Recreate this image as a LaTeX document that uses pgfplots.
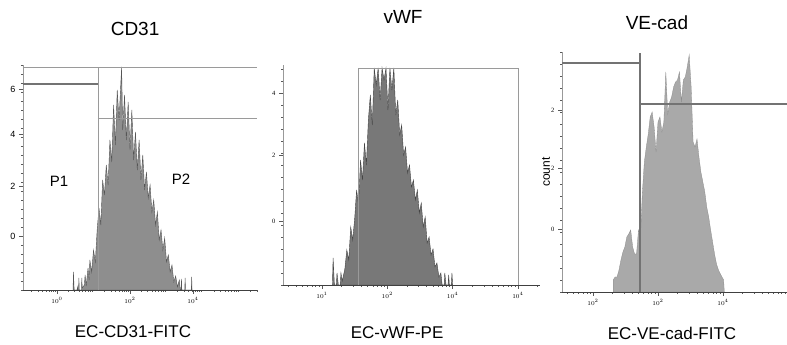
\documentclass[border=0pt]{standalone}
\usepackage{pgfplots}
\pgfplotsset{compat=1.18}
\usepackage{pgfplotstable}
\usepackage{fontspec}
\setmainfont{Liberation Sans}
\newfontfamily\serif{Liberation Serif}
\definecolor{fillA}{HTML}{8E8E8E}
\definecolor{lineA}{HTML}{555555}
\definecolor{fillB}{HTML}{787878}
\definecolor{lineB}{HTML}{444444}
\definecolor{fillC}{HTML}{A9A9A9}
\definecolor{lineC}{HTML}{8A8A8A}
\definecolor{gate}{HTML}{9A9A9A}
\definecolor{gateD}{HTML}{737373}
\newcommand\dec[1]{#1.301,#1.477,#1.602,#1.699,#1.778,#1.845,#1.903,#1.954}
\edef\minA{-0.699,-0.523,-0.398,-0.301,-0.222,-0.155,-0.097,-0.046,\dec0,\dec1,\dec2,\dec3,\dec4,\dec5}
\edef\minB{\dec0,\dec1,\dec2,\dec3,\dec4}
\pgfplotstableread{
d h
0.44 0
0.45 18
0.47 0
0.55 0
0.56 3
0.57 0
0.59 0
0.60 12
0.61 0
0.67 0
0.68 12
0.69 2
0.75 5
0.77 15
0.80 4
0.85 22
0.88 10
0.90 30
0.95 18
1.00 40
1.05 28
1.10 60
1.15 82
1.20 65
1.25 110
1.30 95
1.35 125
1.40 105
1.45 150
1.50 128
1.55 185
1.60 145
1.65 200
1.70 170
1.77 223
1.80 160
1.85 195
1.90 150
1.95 188
2.00 140
2.05 180
2.10 130
2.15 158
2.20 120
2.25 150
2.30 110
2.35 135
2.40 100
2.45 118
2.50 92
2.55 105
2.60 78
2.65 90
2.70 65
2.75 78
2.80 50
2.85 60
2.90 40
2.95 52
3.00 28
3.05 35
3.10 18
3.15 25
3.20 8
3.25 14
3.30 3
3.35 10
3.38 0
3.40 0
3.41 11
3.42 0
3.50 0
3.51 12
3.52 0
3.68 0
3.69 13
3.70 0
}\histA
\pgfplotstableread{
d h
1.16 0
1.17 27
1.19 0
1.22 0
1.23 12
1.25 0
1.28 0
1.29 12
1.31 4
1.35 16
1.38 35
1.41 25
1.44 58
1.47 45
1.50 66
1.53 95
1.56 80
1.59 125
1.62 105
1.65 142
1.68 120
1.71 165
1.74 190
1.77 160
1.80 217
1.83 200
1.86 217
1.89 185
1.92 217
1.95 205
1.98 217
2.01 175
2.04 217
2.07 195
2.10 217
2.13 170
2.16 185
2.19 150
2.22 160
2.25 130
2.28 138
2.31 112
2.34 120
2.37 98
2.40 105
2.43 85
2.46 95
2.49 72
2.52 82
2.55 58
2.58 68
2.61 42
2.64 48
2.67 30
2.70 36
2.73 18
2.76 22
2.79 8
2.82 12
2.84 0
2.87 0
2.88 12
2.90 0
2.93 0
2.94 10
2.95 0
2.98 0
2.99 12
3.00 0
}\histB
\pgfplotstableread{
d h
1.31 0
1.31 12
1.34 15
1.37 15
1.40 22
1.43 32
1.46 40
1.49 45
1.52 55
1.55 58
1.58 62
1.61 45
1.64 38
1.67 38
1.70 62
1.73 55
1.76 100
1.79 130
1.82 145
1.85 158
1.88 175
1.91 180
1.94 165
1.97 140
2.00 170
2.03 175
2.06 160
2.09 170
2.12 220
2.15 178
2.18 190
2.21 195
2.24 205
2.27 210
2.30 212
2.33 220
2.36 190
2.39 212
2.42 215
2.45 225
2.48 237
2.51 205
2.54 150
2.57 145
2.60 153
2.63 135
2.66 120
2.69 110
2.72 100
2.75 85
2.78 75
2.81 62
2.84 50
2.87 38
2.90 28
2.93 22
2.96 18
3.01 12
3.02 0
}\histC
\pgfplotsset{
  flow/.style={
    scale only axis,
    anchor=south west,
    axis x line=bottom,
    axis y line=left,
    axis line style={-},
    x axis line style={black!75, line width=0.8pt},
    y axis line style={gray!80, line width=0.5pt},
    tick align=outside,
    major tick length=4pt,
    minor tick length=2pt,
    every tick/.style={gray!70!black, line width=0.4pt},
    xticklabel style={font=\fontsize{6.5}{7}\selectfont},
    yticklabel style={font=\fontsize{6.5}{7}\selectfont\serif},
    ymin=0,
    title style={font=\fontsize{19}{20}\selectfont, anchor=center},
    xlabel style={font=\fontsize{17}{18}\selectfont, anchor=center},
  }
}
\begin{document}
\begin{tikzpicture}
\useasboundingbox (0,0) rectangle (787pt,345pt);
% ---------- CD31 ----------
\begin{axis}[flow,
  at={(23pt,55pt)}, width=234pt, height=225pt,
  xmin=-0.9315, xmax=5.479, ymax=225,
  xtick={0,2,3.726}, xticklabels={$10^0$,$10^2$,$10^4$},
  minor xtick=\minA,
  ytick={54,104,156,201}, yticklabels={0,2,4,6},
  yticklabel style={font=\fontsize{9}{9}\selectfont},
  minor ytick={0,9,...,225},
  title={CD31}, title style={at={(rel axis cs:0.479,1)}, yshift=30pt},
  xlabel={EC-CD31-FITC}, xlabel style={at={(rel axis cs:0.47,0)}, yshift=-42pt},
]
\addplot[sharp plot, fill=fillA, draw=lineA, line width=0.4pt] table[x=d,y=h] {\histA} \closedcycle;
\addplot[gate, line width=0.6pt] coordinates {(-0.9315,223) (5.479,223)};
\addplot[gate, line width=0.6pt] coordinates {(1.123,0) (1.123,223)};
\addplot[gate, line width=0.6pt] coordinates {(1.123,172) (5.479,172)};
\addplot[gateD, line width=1.3pt] coordinates {(-0.9315,206) (1.123,206)};
\node[font=\fontsize{15}{15}\selectfont] at (axis cs:0.055,109) {P1};
\node[font=\fontsize{15}{15}\selectfont] at (axis cs:3.40,111) {P2};
\end{axis}
% ---------- vWF ----------
\begin{axis}[flow,
  at={(283pt,60pt)}, width=257pt, height=220pt,
  xmin=0.403, xmax=4.338, ymax=220,
  xtick={1,2,3,4}, xticklabels={$10^1$,$10^2$,$10^4$,$10^4$},
  minor xtick=\minB,
  ytick={64,130,192}, yticklabels={0,2,4},
  minor ytick={0,12,...,220},
  title={vWF}, title style={at={(rel axis cs:0.467,1)}, yshift=42pt},
  xlabel={EC-vWF-PE}, xlabel style={at={(rel axis cs:0.444,0)}, yshift=-48pt},
]
\addplot[sharp plot, fill=fillB, draw=lineB, line width=0.4pt] table[x=d,y=h] {\histB} \closedcycle;
\addplot[gate, line width=0.8pt] coordinates {(1.551,0) (1.551,217) (4.0,217) (4.0,0)};
\end{axis}
% ---------- VE-cad ----------
\begin{axis}[flow,
  at={(562pt,53pt)}, width=225pt, height=240pt,
  xmin=0.523, xmax=3.985, ymax=240,
  xtick={1,2,3,4}, xticklabels={$10^2$,$10^2$,$10^4$,$10^4$},
  minor xtick=\minB,
  ytick={63,124,182}, yticklabels={0,2,2},
  minor ytick={0,12,...,240},
  title={VE-cad}, title style={at={(rel axis cs:0.422,1)}, yshift=23pt},
  xlabel={EC-VE-cad-FITC}, xlabel style={at={(rel axis cs:0.489,0)}, yshift=-41pt},
  ylabel={count}, ylabel style={font=\fontsize{12}{12}\selectfont, at={(axis description cs:-0.071,0.5)}, anchor=center},
]
\addplot[sharp plot, fill=fillC, draw=lineC, line width=0.3pt] table[x=d,y=h] {\histC} \closedcycle;
\addplot[gateD, line width=1.3pt] coordinates {(1.723,0) (1.723,239)};
\addplot[gateD, line width=1.3pt] coordinates {(0.523,229) (1.723,229)};
\addplot[gateD, line width=1.3pt] coordinates {(1.723,188) (3.985,188)};
\end{axis}
\end{tikzpicture}
\end{document}
